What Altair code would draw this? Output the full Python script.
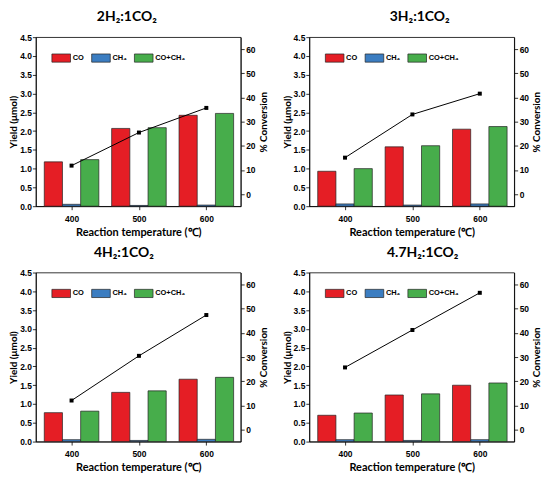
import altair as alt
import pandas as pd

temps = [400, 500, 600]
titles = ["2H₂:1CO₂", "3H₂:1CO₂", "4H₂:1CO₂", "4.7H₂:1CO₂"]
series = ["CO", "CH₄", "CO+CH₄"]
co_yield = [[1.18, 2.07, 2.42], [0.93, 1.58, 2.05], [0.77, 1.31, 1.66], [0.70, 1.24, 1.50]]
ch4_yield = [[0.05, 0.02, 0.03], [0.06, 0.03, 0.06], [0.05, 0.03, 0.06], [0.05, 0.03, 0.05]]
total_yield = [[1.24, 2.09, 2.47], [1.00, 1.61, 2.12], [0.81, 1.35, 1.71], [0.76, 1.27, 1.56]]
conversion = [[11.8, 25.5, 35.7], [15.1, 33.0, 41.6], [12.0, 30.5, 47.4], [25.7, 41.2, 56.6]]
yield_ticks = [0, 0.5, 1.0, 1.5, 2.0, 2.5, 3.0, 3.5, 4.0, 4.5]
conv_ticks = [0, 10, 20, 30, 40, 50, 60]

colors = ["#e51e25", "#3b7dc1", "#47ad4b"]
offsets = {"CO": -27, "CH₄": 0, "CO+CH₄": 27}
title_dx = [-11.5, 8, -14.5, 11]

LABEL_FONT = "Liberation Sans"
TITLE_FONT = "Lato"


def panel(i):
    rows = []
    for s, vals in zip(series, [co_yield[i], ch4_yield[i], total_yield[i]]):
        for t, v in zip(temps, vals):
            rows.append({"series": s, "temp": t, "yield": v, "off": offsets[s]})
    bars_df = pd.DataFrame(rows)
    line_df = pd.DataFrame({"temp": temps, "conv": conversion[i]})

    xscale = alt.Scale(domain=[347, 651], nice=False, zero=False)
    xaxis = alt.Axis(values=temps, title="Reaction temperature (℃)", labelPadding=5,
                     titlePadding=3, titleFontSize=11, format="d")

    bars = alt.Chart(bars_df).transform_calculate(
        x0="datum.temp + datum.off - 13.5", x1="datum.temp + datum.off + 13.5"
    ).mark_bar(stroke="#222222", strokeWidth=0.7).encode(
        x=alt.X("x0:Q", scale=xscale, axis=xaxis),
        x2="x1:Q",
        y=alt.Y("yield:Q", scale=alt.Scale(domain=[0, 4.5], nice=False),
                axis=alt.Axis(values=yield_ticks, format=".1f", title="Yield (μmol)",
                              labelPadding=1, titlePadding=1, titleFontSize=10)),
        y2=alt.datum(0),
        color=alt.Color("series:N", scale=alt.Scale(domain=series, range=colors),
                        legend=alt.Legend(orient="none", legendX=15.5, legendY=10.8,
                                          direction="horizontal", title=None,
                                          symbolType="M-1,-0.44H1V0.44H-1Z", symbolSize=350,
                                          symbolStrokeColor="#222222", symbolStrokeWidth=0.7,
                                          symbolOpacity=1, labelFontSize=7.5, labelFont=LABEL_FONT,
                                          labelFontWeight="bold", labelColor="black",
                                          labelOffset=1.5, columnPadding=6, padding=0)),
    )

    line = alt.Chart(line_df).mark_line(
        color="black", strokeWidth=1,
        point=alt.OverlayMarkDef(shape="square", size=16, color="black", filled=True, opacity=1),
    ).encode(
        x=alt.X("temp:Q", scale=xscale, axis=xaxis),
        y=alt.Y("conv:Q", scale=alt.Scale(domain=[-5, 65], nice=False),
                axis=alt.Axis(orient="right", values=conv_ticks, title="% Conversion",
                              titleAngle=270, titleBaseline="top", labelPadding=1.5,
                              titlePadding=3, titleFontSize=10)),
    )

    return alt.layer(bars, line).resolve_scale(y="independent").properties(
        width=206, height=170,
        title=alt.TitleParams(titles[i], dx=title_dx[i], anchor="middle", offset=9,
                              font=TITLE_FONT, fontSize=14, fontWeight="bold", color="black"),
    )


chart = alt.ConcatChart(
    concat=[panel(0), panel(1), panel(2), panel(3)],
    columns=2,
    spacing={"row": 66.7, "column": 69},
    bounds="flush",
).resolve_scale(
    color="independent"
).properties(
    padding={"left": 0, "top": 0, "right": 0, "bottom": 0},
).configure_view(
    stroke="black", strokeWidth=0.8
).configure_axis(
    labelFont=LABEL_FONT, labelFontWeight="bold", labelFontSize=8.5, labelColor="black",
    titleFont=TITLE_FONT, titleFontWeight="bold", titleColor="black",
    tickColor="black", domainColor="black", tickSize=3.5, tickWidth=0.8, domainWidth=0.8,
    grid=False,
)

chart.save("out.html", embed_options={"renderer": "svg", "actions": False})
